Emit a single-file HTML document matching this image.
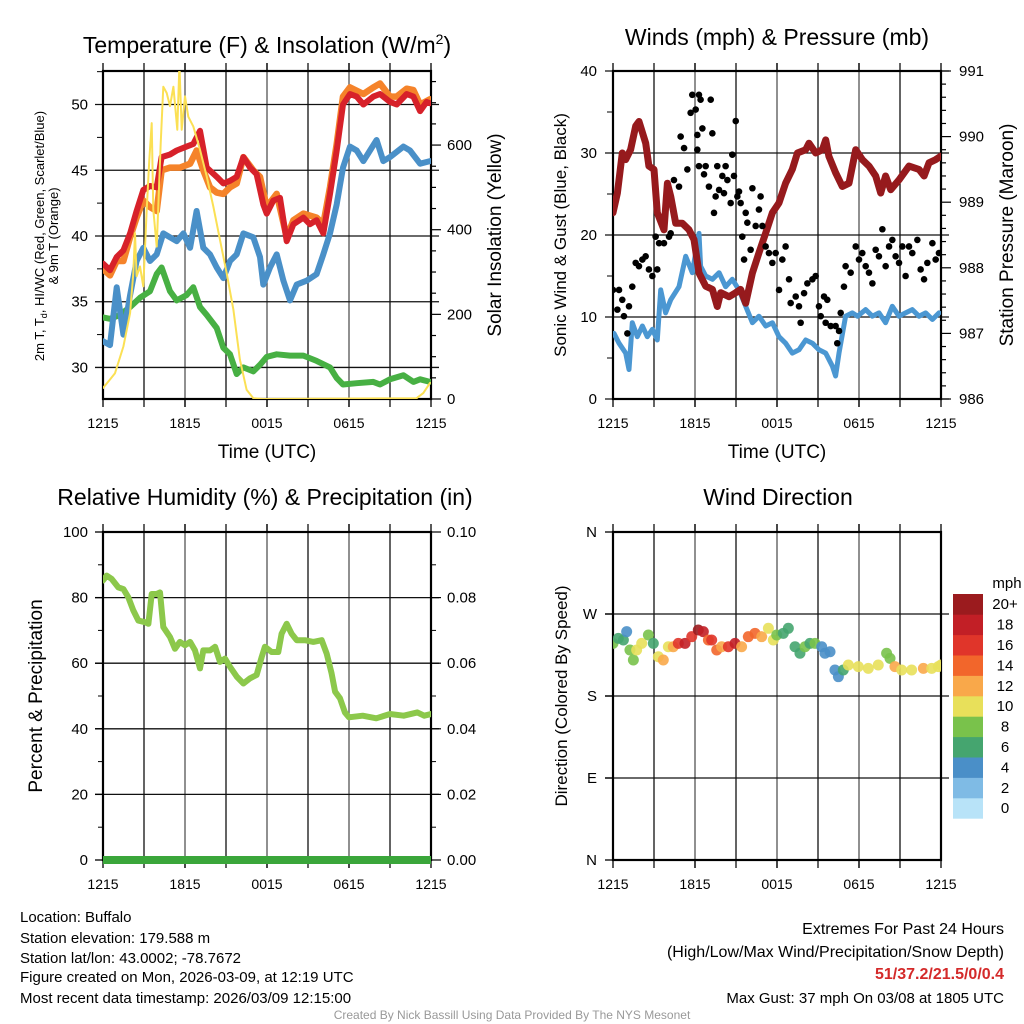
<!DOCTYPE html>
<html><head><meta charset="utf-8"><title>Buffalo Mesonet</title>
<style>
html,body{margin:0;padding:0;background:#fff;}
svg{display:block;font-family:"Liberation Sans",Arial,sans-serif;}
</style></head>
<body>
<svg id="fig" width="1024" height="1024" viewBox="0 0 1024 1024" xmlns="http://www.w3.org/2000/svg">
<defs>
<clipPath id="c1"><rect x="103" y="71" width="328" height="328"/></clipPath>
<clipPath id="c2"><rect x="613" y="71" width="328" height="328"/></clipPath>
<clipPath id="c3"><rect x="103" y="532" width="328" height="328"/></clipPath>
<clipPath id="c4"><rect x="613" y="532" width="328" height="328"/></clipPath>
</defs>
<g id="static">
<text x="267" y="53" font-size="23" text-anchor="middle">Temperature (F) &amp; Insolation (W/m<tspan font-size="14" dy="-9">2</tspan><tspan dy="9">)</tspan></text>
<text x="777" y="45" font-size="23" text-anchor="middle">Winds (mph) &amp; Pressure (mb)</text>
<text x="265" y="505" font-size="23" text-anchor="middle">Relative Humidity (%) &amp; Precipitation (in)</text>
<text x="778" y="505" font-size="23" text-anchor="middle">Wind Direction</text>
<text x="267" y="458" font-size="19" text-anchor="middle">Time (UTC)</text>
<text x="777" y="458" font-size="19" text-anchor="middle">Time (UTC)</text>
<g transform="translate(44,236) rotate(-90)">
<text x="0" y="0" font-size="13" text-anchor="middle">2m T, T<tspan font-size="9" dy="3">d</tspan><tspan dy="-3">, HI/WC (Red, Green, Scarlet/Blue)</tspan></text>
<text x="0" y="14" font-size="13" text-anchor="middle">&amp; 9m T (Orange)</text>
</g>
<text transform="translate(501,235) rotate(-90)" font-size="19" text-anchor="middle">Solar Insolation (Yellow)</text>
<text transform="translate(566,235) rotate(-90)" font-size="17" text-anchor="middle">Sonic Wind &amp; Gust (Blue, Black)</text>
<text transform="translate(1013,235) rotate(-90)" font-size="19" text-anchor="middle">Station Pressure (Maroon)</text>
<text transform="translate(42,696) rotate(-90)" font-size="19" text-anchor="middle">Percent &amp; Precipitation</text>
<text transform="translate(567,696) rotate(-90)" font-size="17" text-anchor="middle">Direction (Colored By Speed)</text>
<g font-size="15">
<text x="20" y="922">Location: Buffalo</text>
<text x="20" y="943">Station elevation: 179.588 m</text>
<text x="20" y="963">Station lat/lon: 43.0002; -78.7672</text>
<text x="20" y="982">Figure created on Mon, 2026-03-09, at 12:19 UTC</text>
<text x="20" y="1003">Most recent data timestamp: 2026/03/09 12:15:00</text>
</g>
<g text-anchor="end">
<text x="1004" y="934" font-size="16">Extremes For Past 24 Hours</text>
<text x="1004" y="957" font-size="16">(High/Low/Max Wind/Precipitation/Snow Depth)</text>
<text x="1004" y="979" font-size="16" font-weight="bold" fill="#d42a2a">51/37.2/21.5/0/0.4</text>
<text x="1004" y="1003" font-size="15">Max Gust: 37 mph On 03/08 at 1805 UTC</text>
</g>
<text x="512" y="1019" font-size="12" fill="#999" text-anchor="middle">Created By Nick Bassill Using Data Provided By The NYS Mesonet</text>
</g>
<g id="dyn"></g>
</svg>
<script>
// ---------- data ----------
const xTickLabels = ["1215","1815","0015","0615","1215"];
const tempTicks = [30,35,40,45,50];
const solarTicks = [0,200,400,600];
const windTicks = [0,10,20,30,40];
const presTicks = [986,987,988,989,990,991];
const rhTicks = [0,20,40,60,80,100];
const precipTicks = ["0.00","0.02","0.04","0.06","0.08","0.10"];
const dirTicks = ["N","E","S","W","N"];
const speedBins = ["0","2","4","6","8","10","12","14","16","18","20+"];
const speedColors = ["#b8e3f8","#7fbbe5","#4a8fc8","#45a56f","#79c24b","#e8e05a","#f9a84a","#f2662b","#e0352a","#c21f26","#9b1b1e"];

const redT = [0,0.51,1,1.49,1.98,2.46,2.95,3.44,3.93,4.29,4.9,5.39,6.12,6.61,7.1,7.59,8.32,8.8,9.29,9.78,10.27,10.76,11.24,11.73,11.98,12.46,12.95,13.44,13.93,14.66,15.15,15.63,16.12,16.61,17.1,17.56,18.07,18.56,19.05,19.78,20.27,21,21.49,22.22,22.71,23.2,23.68,23.93];
const redV = [37.9,37.4,38.4,38.9,40.2,41.9,43.5,43.8,43.7,46,46.2,46.5,46.8,47,48,45.2,44.5,44,44.2,44.5,46,45.2,44.7,42.4,41.7,42.7,42.9,39.6,40.9,41.4,40.9,41.2,40.2,43.2,46.5,50,50.8,50.6,50,50.6,50.8,50.2,50,50.8,50.6,49.5,50.2,50.1];
const orangeT = [0,0.51,1,1.49,1.98,2.46,2.95,3.44,3.93,4.29,4.9,5.63,6.37,6.85,7.34,7.83,8.32,8.8,9.29,9.78,10.27,11,11.49,11.98,12.71,13.44,13.93,14.66,15.63,16.12,16.61,17.1,17.56,18.07,19.05,19.78,20.27,21,21.49,22.22,22.71,23.2,23.93];
const orangeV = [37.5,37,38.1,38.1,39.9,41.4,42.7,42.2,41.9,45,45.2,45.2,45.5,46.5,45,43.7,43.3,43.2,43.7,44,46,45,44.5,42.2,43.2,39.9,41.2,41.7,41.4,40.9,43.7,47,50.6,51.3,50.8,51.3,51.6,50.6,50.6,51.2,51.1,50,50.4];
const blueT = [0,0.51,1,1.49,1.98,2.46,2.95,3.44,3.93,4.41,4.9,5.39,5.88,6.37,6.85,7.34,7.83,8.32,8.8,9.29,9.78,10.27,11,11.49,11.73,12.22,12.71,13.2,13.68,14.17,14.9,15.63,16.12,16.61,17.1,17.56,18.07,18.56,19.05,19.54,20.02,20.51,21,21.98,22.46,23.2,23.93];
const blueV = [32,31.7,36.1,32.5,35.5,38.1,39.1,38.1,38.6,40.2,39.9,39.6,40.2,39.1,41.9,39.1,38.6,37.6,36.8,38.1,38.6,40.2,39.9,38.4,36.3,37.6,38.6,36.6,35.1,36.3,36.6,37.1,38.6,40.2,42.4,45.2,46.8,46.5,45.7,46.5,47.3,45.7,46,46.8,46.5,45.5,45.7];
const greenT = [0,0.51,1.24,1.98,2.71,3.44,3.93,4.29,4.9,5.39,6.12,6.61,7.1,7.59,8.32,8.8,9.29,9.78,10.27,11,11.49,11.98,12.71,13.68,14.66,15.63,16.61,17.1,17.56,18.56,19.78,20.27,21,21.98,22.71,23.2,23.93];
const greenV = [33.8,33.7,34,34.6,35.3,35.8,37.1,37.6,35.8,35.1,35.5,36.1,34.6,34,33,31.5,31,29.5,30,29.7,30.2,30.8,31,30.9,30.9,30.5,30,29.2,28.7,28.8,28.9,28.7,29.1,29.4,28.9,29.1,28.9];
const solarT = [0,0.51,0.88,1.49,1.98,2.22,2.34,2.46,2.71,2.95,3.2,3.39,3.56,3.68,3.93,4.05,4.22,4.41,4.66,4.9,5.15,5.44,5.59,5.76,6,6.24,6.61,7.1,7.59,8.07,8.56,9.05,9.54,10.02,10.51,11,11.73,22.95,23.44,23.93];
const solarV = [26,46,61,124,203,297,392,290,313,266,447,565,652,447,360,455,604,738,723,692,738,636,790,636,715,667,644,589,526,455,376,297,211,93,22,2,0,2,14,38];

const windT = [0.07,0.44,0.93,1.17,1.41,1.78,2.15,2.51,2.88,3.24,3.49,3.85,4.22,4.83,5.32,5.8,6.29,6.41,6.78,7.27,7.76,8.24,8.73,9.22,9.71,10.2,10.68,11.17,11.66,12.15,12.63,13.12,13.61,14.1,14.59,15.07,15.56,16.05,16.29,16.54,17.02,17.51,17.9,18.49,18.98,19.46,19.95,20.44,20.93,21.41,21.9,22.39,22.88,23.37,23.85];
const windV = [8,6.8,5.6,3.6,9.3,7.6,8.9,7.6,8.5,7.2,13.3,10.5,12.1,13.7,17.4,15.4,20.2,16.2,15,14.6,15.4,13.7,14.6,13.3,11.3,9.3,10.1,8.9,9.3,7.6,6.8,5.6,6,7.2,6.8,6,5.6,4,2.8,5.6,10.1,10.5,10.1,10.9,10.1,10.5,9.3,11.3,10.1,10.5,10.9,10.1,10.5,9.7,10.5];
const gustT = [0,0.44,0.32,0.68,0.8,1.05,1.17,1.41,1.66,1.9,2.15,2.39,2.63,2.88,3.12,3.24,3.37,3.73,4.1,4.22,4.46,4.83,4.95,5.2,5.44,5.68,5.8,6.05,6.17,6.29,6.41,6.54,6.17,6.29,6.66,6.78,7.02,7.27,7.15,7.39,7.51,7.63,7.76,8,8.12,8.24,8.37,8.61,8.73,8.85,8.98,9.1,9.22,9.34,9.46,9.59,9.71,9.83,10.07,10.2,10.44,10.68,10.8,10.93,11.17,11.41,11.66,11.9,12.15,12.39,12.63,12.88,13,13.37,13.61,13.73,13.98,14.22,14.59,14.83,15.07,15.2,15.44,15.68,15.56,15.93,16.29,16.41,16.54,16.66,16.9,17.02,17.39,17.76,18,18.24,18.49,18.73,18.98,19.22,19.46,19.71,19.95,20.2,20.44,20.68,20.93,21.17,21.41,21.66,21.9,22.27,22.51,22.76,23,23.37,23.61,23.85];
const gustV = [13.3,13.3,10.9,12.1,10.1,8,11.3,13.7,16.6,16.2,17,17.4,15.8,15,19.8,15.8,19,19,19.8,20.2,26.7,25.9,32,30.6,28,34.9,37.1,35.3,32.2,37.1,36.5,33,30.4,28.4,27.4,28.4,25.9,32.4,36.5,22.7,24.7,28.4,25.5,27.2,25.1,28.4,26.7,23.9,29.8,27.2,33.9,24.7,25.3,23.9,19.8,17,22.7,21.5,18.2,25.7,21.1,23.1,24.7,21.1,18.6,17.8,16.6,17.8,13.3,17,18.6,14.6,11.7,12.5,11.3,9.3,12.9,14.1,14.6,15,11.3,10.1,12.5,12.1,9.3,8.9,8.9,6.8,8.3,10.5,13.7,16.2,15.4,18.6,17,17.8,16.2,15.4,14.1,18.2,17.4,20.7,16.2,18.6,19.4,17.4,16.6,18.6,15,18.6,17.8,19.4,15.8,14.6,16.6,19,17,17.8];
const presT = [0,0.32,0.68,0.93,1.29,1.66,1.9,2.39,2.63,3,3.24,3.73,3.98,4.22,4.59,5.07,5.56,5.93,6.29,6.78,7.27,7.63,7.88,8.49,8.98,9.34,9.71,10.2,10.68,11.17,11.66,12.15,12.63,13.12,13.49,14.1,14.34,14.83,15.32,15.56,15.8,16.29,16.78,17.27,17.76,18.24,18.73,19.22,19.59,19.95,20.32,20.93,21.66,22.39,22.76,23.12,23.61,23.98];
const presV = [988.84,989.14,989.75,989.65,989.8,990.16,990.23,989.9,989.55,989.5,988.84,988.58,989.29,989.09,988.68,988.68,988.58,988.43,987.92,987.72,987.67,987.41,987.62,987.56,987.62,987.67,987.46,987.92,988.23,988.53,988.84,988.99,989.29,989.5,989.75,989.8,989.9,989.75,989.8,989.95,989.7,989.45,989.24,989.29,989.8,989.65,989.55,989.4,989.14,989.4,989.19,989.34,989.55,989.5,989.4,989.6,989.65,989.7];

const rhT = [0,0.27,0.63,1.12,1.49,1.85,2.22,2.59,3.07,3.32,3.56,3.93,4.17,4.41,4.9,5.27,5.63,6,6.37,6.73,7.1,7.34,7.83,8.2,8.56,8.93,9.29,9.78,10.27,10.76,11.24,11.61,11.85,12.34,12.83,13.07,13.44,13.8,14.17,14.78,15.39,16,16.37,16.73,16.98,17.34,17.7,18,19,20,21,22,23,23.5,24];
const rhV = [85.2,86.7,85.7,83.1,82.6,80.1,76.1,73,72.5,72,81.1,81.1,81.6,71,68,64.4,66.5,65.5,66.5,63.9,58.4,63.9,63.9,65,60.4,61.4,58.9,55.9,53.8,55.4,56.4,61.9,65,63.4,63.4,69,72,69,67,67,66.5,67,62.9,56.9,51.3,49.3,45,43.5,44,43.2,44.5,44,45,44,44.5];
const precipT = [0,6,12,18,24];
const precipV = [0,0,0,0,0];

const dirT = [0,0.39,0.76,1,1.24,1.49,1.73,2.1,2.59,2.95,3.32,3.68,4.05,4.41,4.78,5.27,5.76,6.24,6.61,6.98,7.22,7.59,7.95,8.44,8.93,9.41,9.9,10.39,10.88,11.37,11.73,11.98,12.46,12.83,13.32,13.68,14.05,14.41,14.78,15.27,15.51,15.88,16.24,16.49,16.85,17.22,17.95,18.68,19.41,20.02,20.27,20.63,21.12,21.85,22.71,23.32,23.8,24];
const dirV = [237.8,243.3,241.5,250.6,230.5,219.5,230.5,237.8,247,237.8,223.1,219.5,234.1,234.1,237.8,237.8,245.1,252.4,250.6,241.5,241.5,230.5,234.1,234.1,237.8,234.1,245.1,248.8,245.1,254.3,241.5,247,248.8,254.3,234.1,226.9,234.1,237.8,237.8,234.1,226.9,228.6,208.5,201.2,208.5,214,212.2,210.3,214,226.9,221.3,212.2,208.5,208.5,210.3,210.3,212.2,214];
const dirSpd = [8,6,6,4,8,8,10,10,8,6,10,12,10,12,16,18,16,20,18,14,16,14,12,16,18,12,14,14,12,10,10,8,6,6,6,6,8,6,8,4,4,4,4,4,6,10,10,10,10,8,8,12,10,10,12,10,10,10];

// ---------- helpers ----------
const NS = "http://www.w3.org/2000/svg";
const root = document.getElementById("dyn");
function mk(tag, attrs, parent){
  const e = document.createElementNS(NS, tag);
  for (const k in attrs) e.setAttribute(k, attrs[k]);
  (parent||root).appendChild(e);
  return e;
}
function txt(s, x, y, size, anchor, parent){
  const t = mk("text", {x:x, y:y, "font-size":size, "text-anchor":anchor}, parent);
  t.textContent = s;
  return t;
}
const L = [103, 613], T = [71, 532], S = 328;
function xs(col){ return h => L[col] + h * S / 24; }
function ys(row, lo, hi){ return v => T[row] + S - (v - lo) / (hi - lo) * S; }

const xL = xs(0), xR = xs(1);
const yTemp = ys(0, 27.6, 52.55);
const ySolar = ys(0, 0, 775);
const yWind = ys(0, 0, 40);
const yPres = ys(0, 986, 991);
const yRH = ys(1, 0, 100);
const yPrec = ys(1, 0, 0.1);
const yDir = ys(1, 0, 360);

function frame(col, row, name){
  const g = mk("g", {});
  
  
  const x0 = L[col], y0 = T[row];
  for (let h = 3; h < 24; h += 3){
    const x = x0 + h*S/24;
    const gl = mk("line", {x1:x, x2:x, y1:y0-8, y2:y0+S+8, stroke: (h%6===0)?"#555":"#111", "stroke-width":1.3}, g);
    
    
  }
  const tx = col===0 ? xL : xR;
  xTickLabels.forEach((s,i)=>{
    const x = tx(i*6);
    mk("line", {x1:x, x2:x, y1:y0+S, y2:y0+S+8, stroke:"#000", "stroke-width":1.3}, g);
    mk("line", {x1:x, x2:x, y1:y0, y2:y0-8, stroke:"#000", "stroke-width":1.3}, g);
    const t = txt(s, x, y0+S+29, 14, "middle", g);
    
    
  });
  return g;
}
function hgrid(g, y, col){
  mk("line", {x1:L[col]-8, x2:L[col]+S+8, y1:y, y2:y, stroke:"#111", "stroke-width":1.3}, g);
}
function border(g, col, row){
  const b = mk("rect", {x:L[col], y:T[row], width:S, height:S, fill:"none", stroke:"#000", "stroke-width":2.2}, g);
  
  
}
function lineD(ts, vs, fx, fy){
  return ts.map((t,i)=> (i?"L":"M") + fx(t).toFixed(1) + "," + fy(vs[i]).toFixed(1)).join(" ");
}
function series(name, ts, vs, fx, fy, color, w, clip){
  const p = mk("path", {d: lineD(ts, vs, fx, fy), fill:"none", stroke:color, "stroke-width":w, "stroke-linejoin":"round", "stroke-linecap":"round", "clip-path":"url(#"+clip+")"});
  
  
  return p;
}

// ---------- panel 1: temperature ----------
const g1 = frame(0, 0, "temp");
tempTicks.forEach(v=>{
  const y = yTemp(v); hgrid(g1, y, 0);
  const t = txt(String(v), 88, y+5, 15, "end", g1);
  
  
  mk("line", {x1:103, x2:97, y1:yTemp(v+2.5), y2:yTemp(v+2.5), stroke:"#000"}, g1);
});
for (let v = 0; v <= 750; v += 50){
  const y = ySolar(v);
  mk("line", {x1:431, x2: v%200===0 ? 441 : 436, y1:y, y2:y, stroke:"#000", "stroke-width":1.2}, g1);
}
solarTicks.forEach(v=>{
  const t = txt(String(v), 447, ySolar(v)+5, 15, "start", g1);
  
  
});
border(g1, 0, 0);
series("green-dewpoint-line", greenT, greenV, xL, yTemp, "#47b043", 6, "c1");
series("blue-windchill-line", blueT, blueV, xL, yTemp, "#4a90c8", 6, "c1");
series("orange-9m-temp-line", orangeT, orangeV, xL, yTemp, "#f5832a", 6.5, "c1");
series("red-2m-temp-line", redT, redV, xL, yTemp, "#d7212a", 6, "c1");
series("yellow-solar-line", solarT, solarV, xL, ySolar, "#fbe054", 2, "c1");

// ---------- panel 2: winds & pressure ----------
const g2 = frame(1, 0, "wind");
windTicks.forEach(v=>{
  const y = yWind(v); hgrid(g2, y, 1);
  const t = txt(String(v), 597, y+5, 15, "end", g2);
  
  
  if (v < 40) mk("line", {x1:613, x2:607, y1:yWind(v+5), y2:yWind(v+5), stroke:"#000"}, g2);
});
for (let v = 986; v <= 991.001; v += 0.2){
  const y = yPres(v);
  const major = Math.abs(v - Math.round(v)) < 0.01;
  mk("line", {x1:941, x2: major ? 951 : 946, y1:y, y2:y, stroke:"#000", "stroke-width":1.2}, g2);
}
presTicks.forEach(v=>{
  const t = txt(String(v), 959, yPres(v)+5, 15, "start", g2);
  
  
});
border(g2, 1, 0);
series("sonic-wind-line", windT, windV, xR, yWind, "#4b97d2", 5, "c2");
series("pressure-line", presT, presV, xR, yPres, "#961a1d", 7, "c2");
const gg = mk("g", {"clip-path":"url(#c2)"});


gustT.forEach((t,i)=>{
  const c = mk("circle", {cx:xR(t), cy:yWind(gustV[i]), r:3.3, fill:"#000"}, gg);
  
  
});

// ---------- panel 3: RH & precip ----------
const g3 = frame(0, 1, "rh");
rhTicks.forEach(v=>{
  const y = yRH(v); if (v>0 && v<100) hgrid(g3, y, 0);
  mk("line", {x1:103, x2:95, y1:y, y2:y, stroke:"#000", "stroke-width":1.3}, g3);
  if (v < 100) mk("line", {x1:103, x2:98, y1:yRH(v+10), y2:yRH(v+10), stroke:"#000"}, g3);
  const t = txt(String(v), 88, y+5, 15, "end", g3);
  
  
});
precipTicks.forEach((s,i)=>{
  const v = parseFloat(s);
  const y = yPrec(v);
  mk("line", {x1:431, x2:441, y1:y, y2:y, stroke:"#000", "stroke-width":1.2}, g3);
  if (v < 0.099) mk("line", {x1:431, x2:436, y1:yPrec(v+0.01), y2:yPrec(v+0.01), stroke:"#000"}, g3);
  const t = txt(s, 447, y+5, 15, "start", g3);
  
  
});
border(g3, 0, 1);
series("rh-line", rhT, rhV, xL, yRH, "#8cc84b", 6, "c3");
const pp = mk("path", {d: lineD(precipT, precipV, xL, yPrec), fill:"none", stroke:"#3aa63a", "stroke-width":8});



// ---------- panel 4: wind direction ----------
const g4 = frame(1, 1, "wdir");
dirTicks.forEach((s,i)=>{
  const y = yDir(i*90);
  if (i>0 && i<4) hgrid(g4, y, 1);
  mk("line", {x1:613, x2:605, y1:y, y2:y, stroke:"#000", "stroke-width":1.3}, g4);
  const t = txt(s, 597, y+5, 15, "end", g4);
  
  
});
border(g4, 1, 1);
const gd = mk("g", {"clip-path":"url(#c4)"});


function spdColor(s){ return speedColors[Math.min(10, Math.max(0, Math.round(s/2)))]; }
dirT.forEach((t,i)=>{
  const c = mk("circle", {cx:xR(t), cy:yDir(dirV[i]), r:5.5, fill:spdColor(dirSpd[i]), "fill-opacity":0.9}, gd);
  
  
});
// colorbar
const cb = mk("g", {});


const cbTop = 594, cbH = 20.4;
speedBins.forEach((s,i)=>{
  const k = speedBins.length - 1 - i;
  const y = cbTop + k*cbH;
  const r = mk("rect", {x:953, y:y, width:30, height:cbH+0.3, fill:speedColors[i]}, cb);
  
  
  const t = txt(s, 1005, y+cbH/2+5, 15, "middle", cb);
  
  
});
const cu = txt("mph", 1007, 588, 15, "middle", cb);


</script>
</body></html>
